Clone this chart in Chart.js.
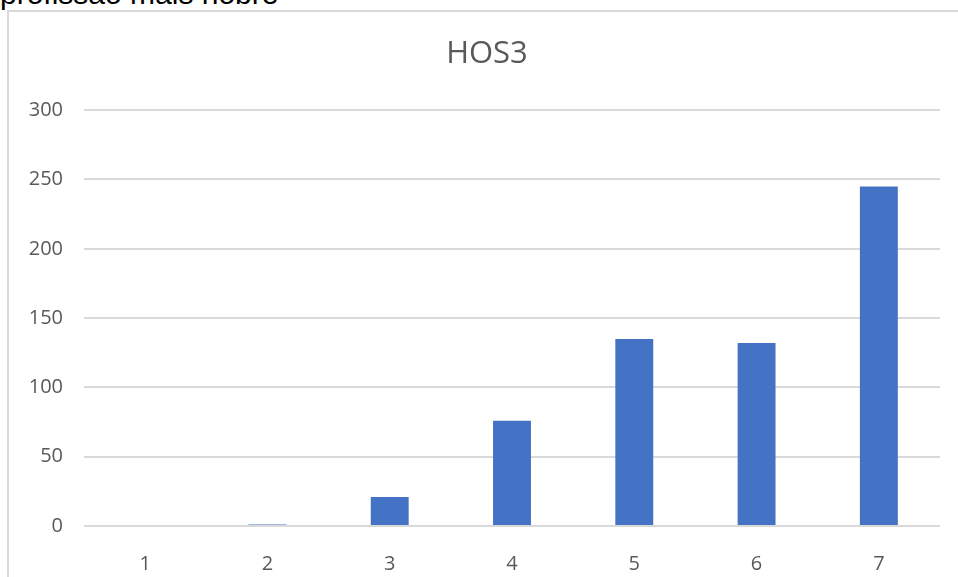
<!DOCTYPE html>
<html>
<head>
<meta charset="utf-8">
<script src="https://cdn.jsdelivr.net/npm/chart.js@4.4.1/dist/chart.umd.min.js"></script>
<style>
  html, body { margin: 0; padding: 0; background: #fff; overflow: hidden; }
  body { width: 958px; height: 577px; position: relative; }
  #caption {
    position: absolute; left: 0; top: -23px;
    font-family: "Liberation Sans", Arial, sans-serif; font-size: 30px; line-height: 34px;
    color: #000; white-space: nowrap;
  }
  #frame {
    position: absolute; left: 7px; top: 10px; width: 970px; height: 580px;
    border-left: 2px solid #d9d9d9; border-top: 2px solid #d9d9d9;
  }
  #wrap { position: absolute; left: 0; top: 0; width: 956px; height: 565px; }
</style>
</head>
<body>
<div id="caption">profissão mais nobre</div>
<div id="frame">
  <div id="wrap"><canvas id="c"></canvas></div>
</div>
<script>
// chart data
const categories = ['1', '2', '3', '4', '5', '6', '7'];
const hos3Values = [0, 1, 21, 76, 135, 132, 245];
const yTicks = [0, 50, 100, 150, 200, 250, 300];

const grey = '#595959';
const font = '"Open Sans", sans-serif';

// center the title over the whole chart box, not just the padded area
const titleCenter = {
  id: 'titleCenter',
  afterLayout(chart) {
    chart.titleBlock.left = 0;
    chart.titleBlock.right = chart.width;
  }
};

new Chart(document.getElementById('c'), {
  type: 'bar',
  data: {
    labels: categories,
    datasets: [{
      label: 'HOS3',
      data: hos3Values,
      backgroundColor: '#4472C4',
      barPercentage: 0.31,
      categoryPercentage: 1
    }]
  },
  options: {
    responsive: true,
    maintainAspectRatio: false,
    animation: false,
    layout: { padding: { left: 0, right: 25, top: 0, bottom: 0 } },
    plugins: {
      legend: { display: false },
      tooltip: { enabled: false },
      title: {
        display: true,
        text: 'HOS3',
        color: grey,
        font: { family: font, size: 31, weight: 'normal' },
        padding: { top: 24, bottom: 37 }
      }
    },
    scales: {
      x: {
        grid: { display: false },
        border: { display: false },
        ticks: { color: grey, font: { family: font, size: 20 }, padding: 18 },
        afterFit: (s) => { s.height = 51; }
      },
      y: {
        min: 0,
        max: 300,
        afterBuildTicks: (s) => { s.ticks = yTicks.map(v => ({ value: v })); },
        grid: { color: '#d9d9d9', lineWidth: 2, drawTicks: false },
        border: { display: false },
        ticks: { color: grey, font: { family: font, size: 20 }, padding: 21 },
        afterFit: (s) => { s.width = 75; }
      }
    }
  },
  plugins: [titleCenter]
});
</script>
</body>
</html>
